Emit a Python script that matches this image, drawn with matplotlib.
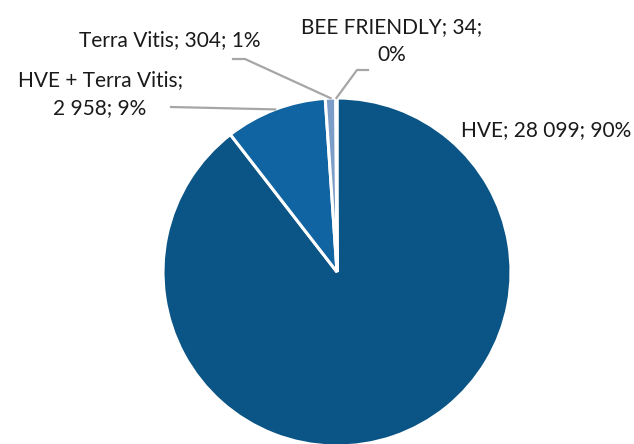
import numpy as np
import matplotlib.pyplot as plt

# Données
Labels = ["HVE", "HVE + Terra Vitis", "Terra Vitis", "BEE FRIENDLY"]
Valeurs = [28099, 2958, 304, 34]
Couleurs = ["#0B5486", "#1064A2", "#7D9DC9", "#B7C8E2"]

W, H = 634, 444
fig = plt.figure(figsize=(W / 100, H / 100), dpi=100)
ax = fig.add_axes([0, 0, 1, 1])

cx, cy, R = 337, H - 272, 174
wedges, _ = ax.pie(Valeurs, colors=Couleurs, startangle=90, counterclock=False,
                   center=(cx, cy), radius=R,
                   wedgeprops=dict(edgecolor="white", linewidth=2.2))
ax.set_xlim(0, W)
ax.set_ylim(0, H)
ax.set_aspect("equal")
ax.axis("off")

total = sum(Valeurs)
textes = [f"{lab}; {v:,}; {round(v / total * 100):.0f}%".replace(",", " ")
          for lab, v in zip(Labels, Valeurs)]
textes[1] = textes[1].replace("Vitis; ", "Vitis;\n")
textes[3] = textes[3].replace("34; ", "34;\n")

def bord(w):
    a = np.deg2rad((w.theta1 + w.theta2) / 2)
    return cx + R * np.cos(a), cy + R * np.sin(a)

police = dict(family=["Lato", "DejaVu Sans"], fontsize=15, color="#1a1a1a")
gris = dict(color="#A6A6A6", lw=1.6)

# HVE
ax.text(461, H - 130, textes[0], ha="left", va="center", **police)

# HVE + Terra Vitis
ax.text(100, H - 94, textes[1], ha="center", va="center", linespacing=1.45, **police)
px, py = bord(wedges[1])
ax.plot([171, px], [H - 107, py], **gris)

# Terra Vitis
ax.text(170, H - 40, textes[2], ha="center", va="center", **police)
px, py = bord(wedges[2])
ax.plot([233, 245, px], [H - 59, H - 59, py], **gris)

# BEE FRIENDLY
ax.text(392, H - 41, textes[3], ha="center", va="center", linespacing=1.45, **police)
px, py = bord(wedges[3])
ax.plot([368, 357, px], [H - 70, H - 70, py], **gris)

fig.savefig("out.png", dpi=100)
